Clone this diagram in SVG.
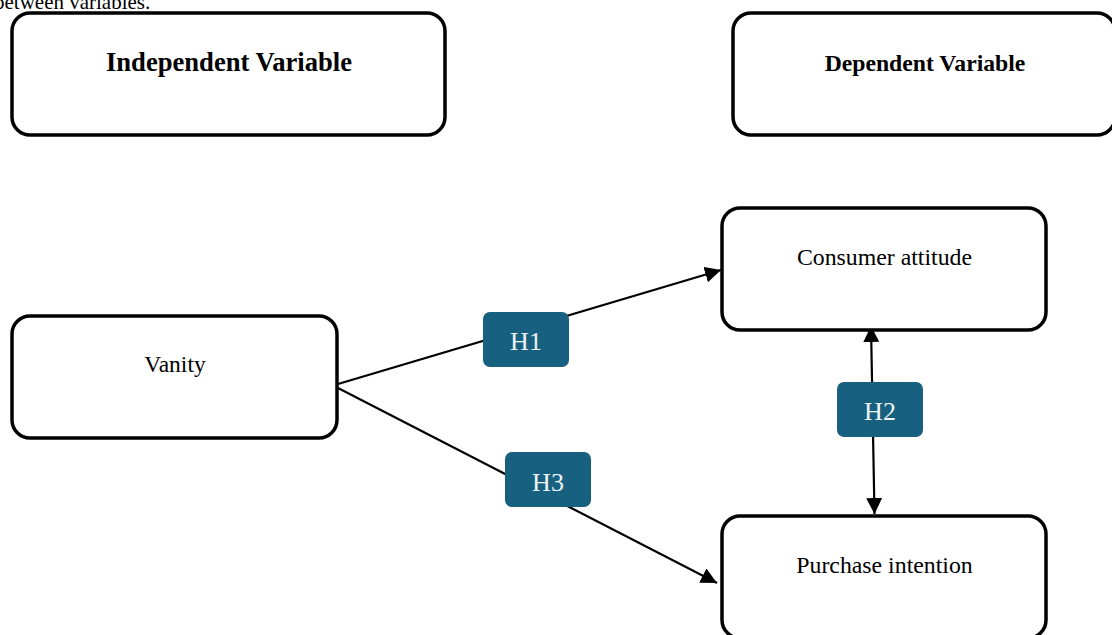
<svg xmlns="http://www.w3.org/2000/svg" width="1112" height="635" viewBox="0 0 1112 635">
<defs>
<style>
.node{fill:#fff;stroke:#000;stroke-width:3.5}
.t{font-family:"Liberation Serif","Times New Roman",serif;fill:#000;text-anchor:middle}
.hd{font-weight:bold}
.lab{fill:#17607f}
.lt{font-family:"Liberation Serif","Times New Roman",serif;fill:#eef3f6;text-anchor:middle;font-size:26px}
.edge{stroke:#000;stroke-width:2.2;fill:none}
</style>
<marker id="ah2" viewBox="0 0 10 10" refX="10" refY="5" markerWidth="16" markerHeight="16" markerUnits="userSpaceOnUse" orient="auto-start-reverse">
<path d="M0,0 L10,5 L0,10 z" fill="#000"/>
</marker>
</defs>
<rect width="1112" height="635" fill="#fff"/>
<text class="t" x="-6" y="9" style="text-anchor:start;font-size:21px">between variables.</text>
<g id="connectors">
<line class="edge" x1="338" y1="384" x2="721" y2="270" marker-end="url(#ah2)"/>
<line class="edge" x1="338" y1="388" x2="717" y2="583" marker-end="url(#ah2)"/>
<line class="edge" x1="871" y1="326" x2="874.5" y2="514" marker-start="url(#ah2)" marker-end="url(#ah2)"/>
</g>
<g id="independent">
<rect class="node" x="12" y="13" width="433" height="122" rx="18"/>
<text class="t hd" x="229" y="71" font-size="26.6">Independent Variable</text>
</g>
<g id="dependent">
<rect class="node" x="733" y="13" width="382" height="122" rx="18"/>
<text class="t hd" x="925" y="71" font-size="23.7">Dependent Variable</text>
</g>
<g id="vanity">
<rect class="node" x="12" y="316" width="325" height="122" rx="18"/>
<text class="t" x="175" y="372" font-size="23.5">Vanity</text>
</g>
<g id="attitude">
<rect class="node" x="722" y="208" width="324" height="122" rx="18"/>
<text class="t" x="884.5" y="265" font-size="23.8">Consumer attitude</text>
</g>
<g id="intention">
<rect class="node" x="722" y="516" width="324" height="122" rx="18"/>
<text class="t" x="884.5" y="573" font-size="23.8">Purchase intention</text>
</g>
<g id="h1">
<rect class="lab" x="483" y="312" width="86" height="55" rx="7"/>
<text class="lt" x="526" y="350">H1</text>
</g>
<g id="h2">
<rect class="lab" x="837" y="382" width="86" height="55" rx="7"/>
<text class="lt" x="880" y="420">H2</text>
</g>
<g id="h3">
<rect class="lab" x="505" y="452" width="86" height="55" rx="7"/>
<text class="lt" x="548" y="491">H3</text>
</g>
</svg>
